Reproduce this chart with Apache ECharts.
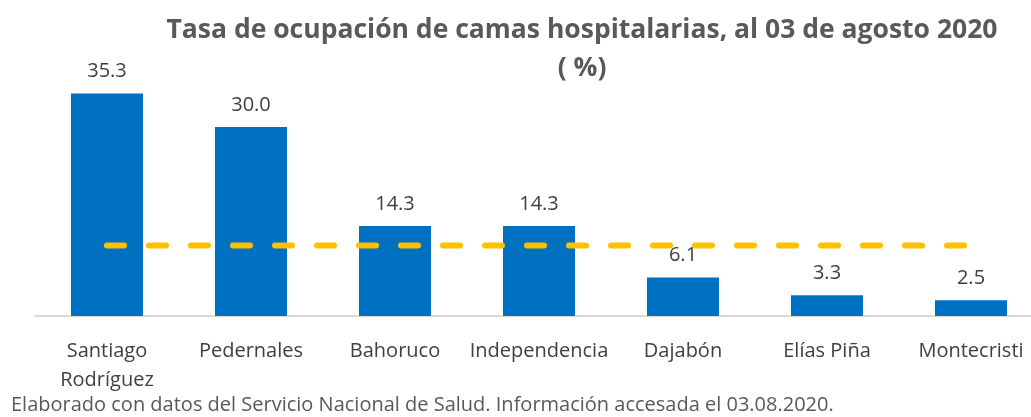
<!DOCTYPE html>
<html>
<head>
<meta charset="utf-8">
<script src="https://cdn.jsdelivr.net/npm/echarts@6/dist/echarts.min.js"></script>
<style>
  html, body { margin: 0; padding: 0; background: #fff; }
  #chart { width: 1031px; height: 417px; }
</style>
</head>
<body>
<div id="chart"></div>
<script>
// Provincias (eje de categorías)
const provincias = ['Santiago\nRodríguez', 'Pedernales', 'Bahoruco', 'Independencia', 'Dajabón', 'Elías Piña', 'Montecristi'];
// Tasa de ocupación (%)
const ocupacion = [35.3, 30.0, 14.3, 14.3, 6.1, 3.3, 2.5];
// Línea de referencia (promedio)
const promedio = [11.2, 11.2, 11.2, 11.2, 11.2, 11.2, 11.2];

const font = '"Open Sans", "Noto Sans", sans-serif';

const chart = echarts.init(document.getElementById('chart'), null, { renderer: 'canvas' });

const option = {
    backgroundColor: '#fff',
    animation: false,
    textStyle: { fontFamily: font },
    title: {
        text: 'Tasa de ocupación de camas hospitalarias, al 03 de agosto 2020\n( %)',
        left: 582,
        top: 11,
        padding: 0,
        textAlign: 'center',
        textStyle: {
            fontFamily: font,
            fontSize: 26.5,
            fontWeight: 'bold',
            color: '#595959',
            lineHeight: 38
        }
    },
    graphic: [{
        type: 'text',
        left: 11,
        top: 395,
        style: {
            text: 'Elaborado con datos del Servicio Nacional de Salud. Información accesada el 03.08.2020.',
            font: '20px ' + font,
            fill: '#595959'
        }
    }],
    grid: {
        left: 35,
        width: 1008,
        top: 64,
        bottom: 101,
        outerBoundsMode: 'none'
    },
    xAxis: {
        type: 'category',
        data: provincias,
        axisTick: { show: false },
        axisLine: { lineStyle: { color: '#d9d9d9', width: 2 } },
        axisLabel: {
            color: '#404040',
            fontSize: 20,
            lineHeight: 29,
            margin: 21,
            interval: 0
        }
    },
    yAxis: {
        type: 'value',
        min: 0,
        max: 40,
        show: false,
        splitLine: { show: false }
    },
    series: [
        {
            type: 'bar',
            data: ocupacion,
            barWidth: 72,
            itemStyle: { color: '#0070c0' },
            label: {
                show: true,
                position: 'top',
                distance: 12,
                color: '#404040',
                fontSize: 20,
                formatter: (p) => p.value.toFixed(1)
            }
        },
        {
            type: 'line',
            data: promedio,
            symbol: 'none',
            z: 3,
            lineStyle: {
                color: '#ffc000',
                width: 6,
                type: [17, 25],
                cap: 'round'
            }
        }
    ]
};

chart.setOption(option);
window.addEventListener('resize', () => chart?.resize());
</script>
</body>
</html>
